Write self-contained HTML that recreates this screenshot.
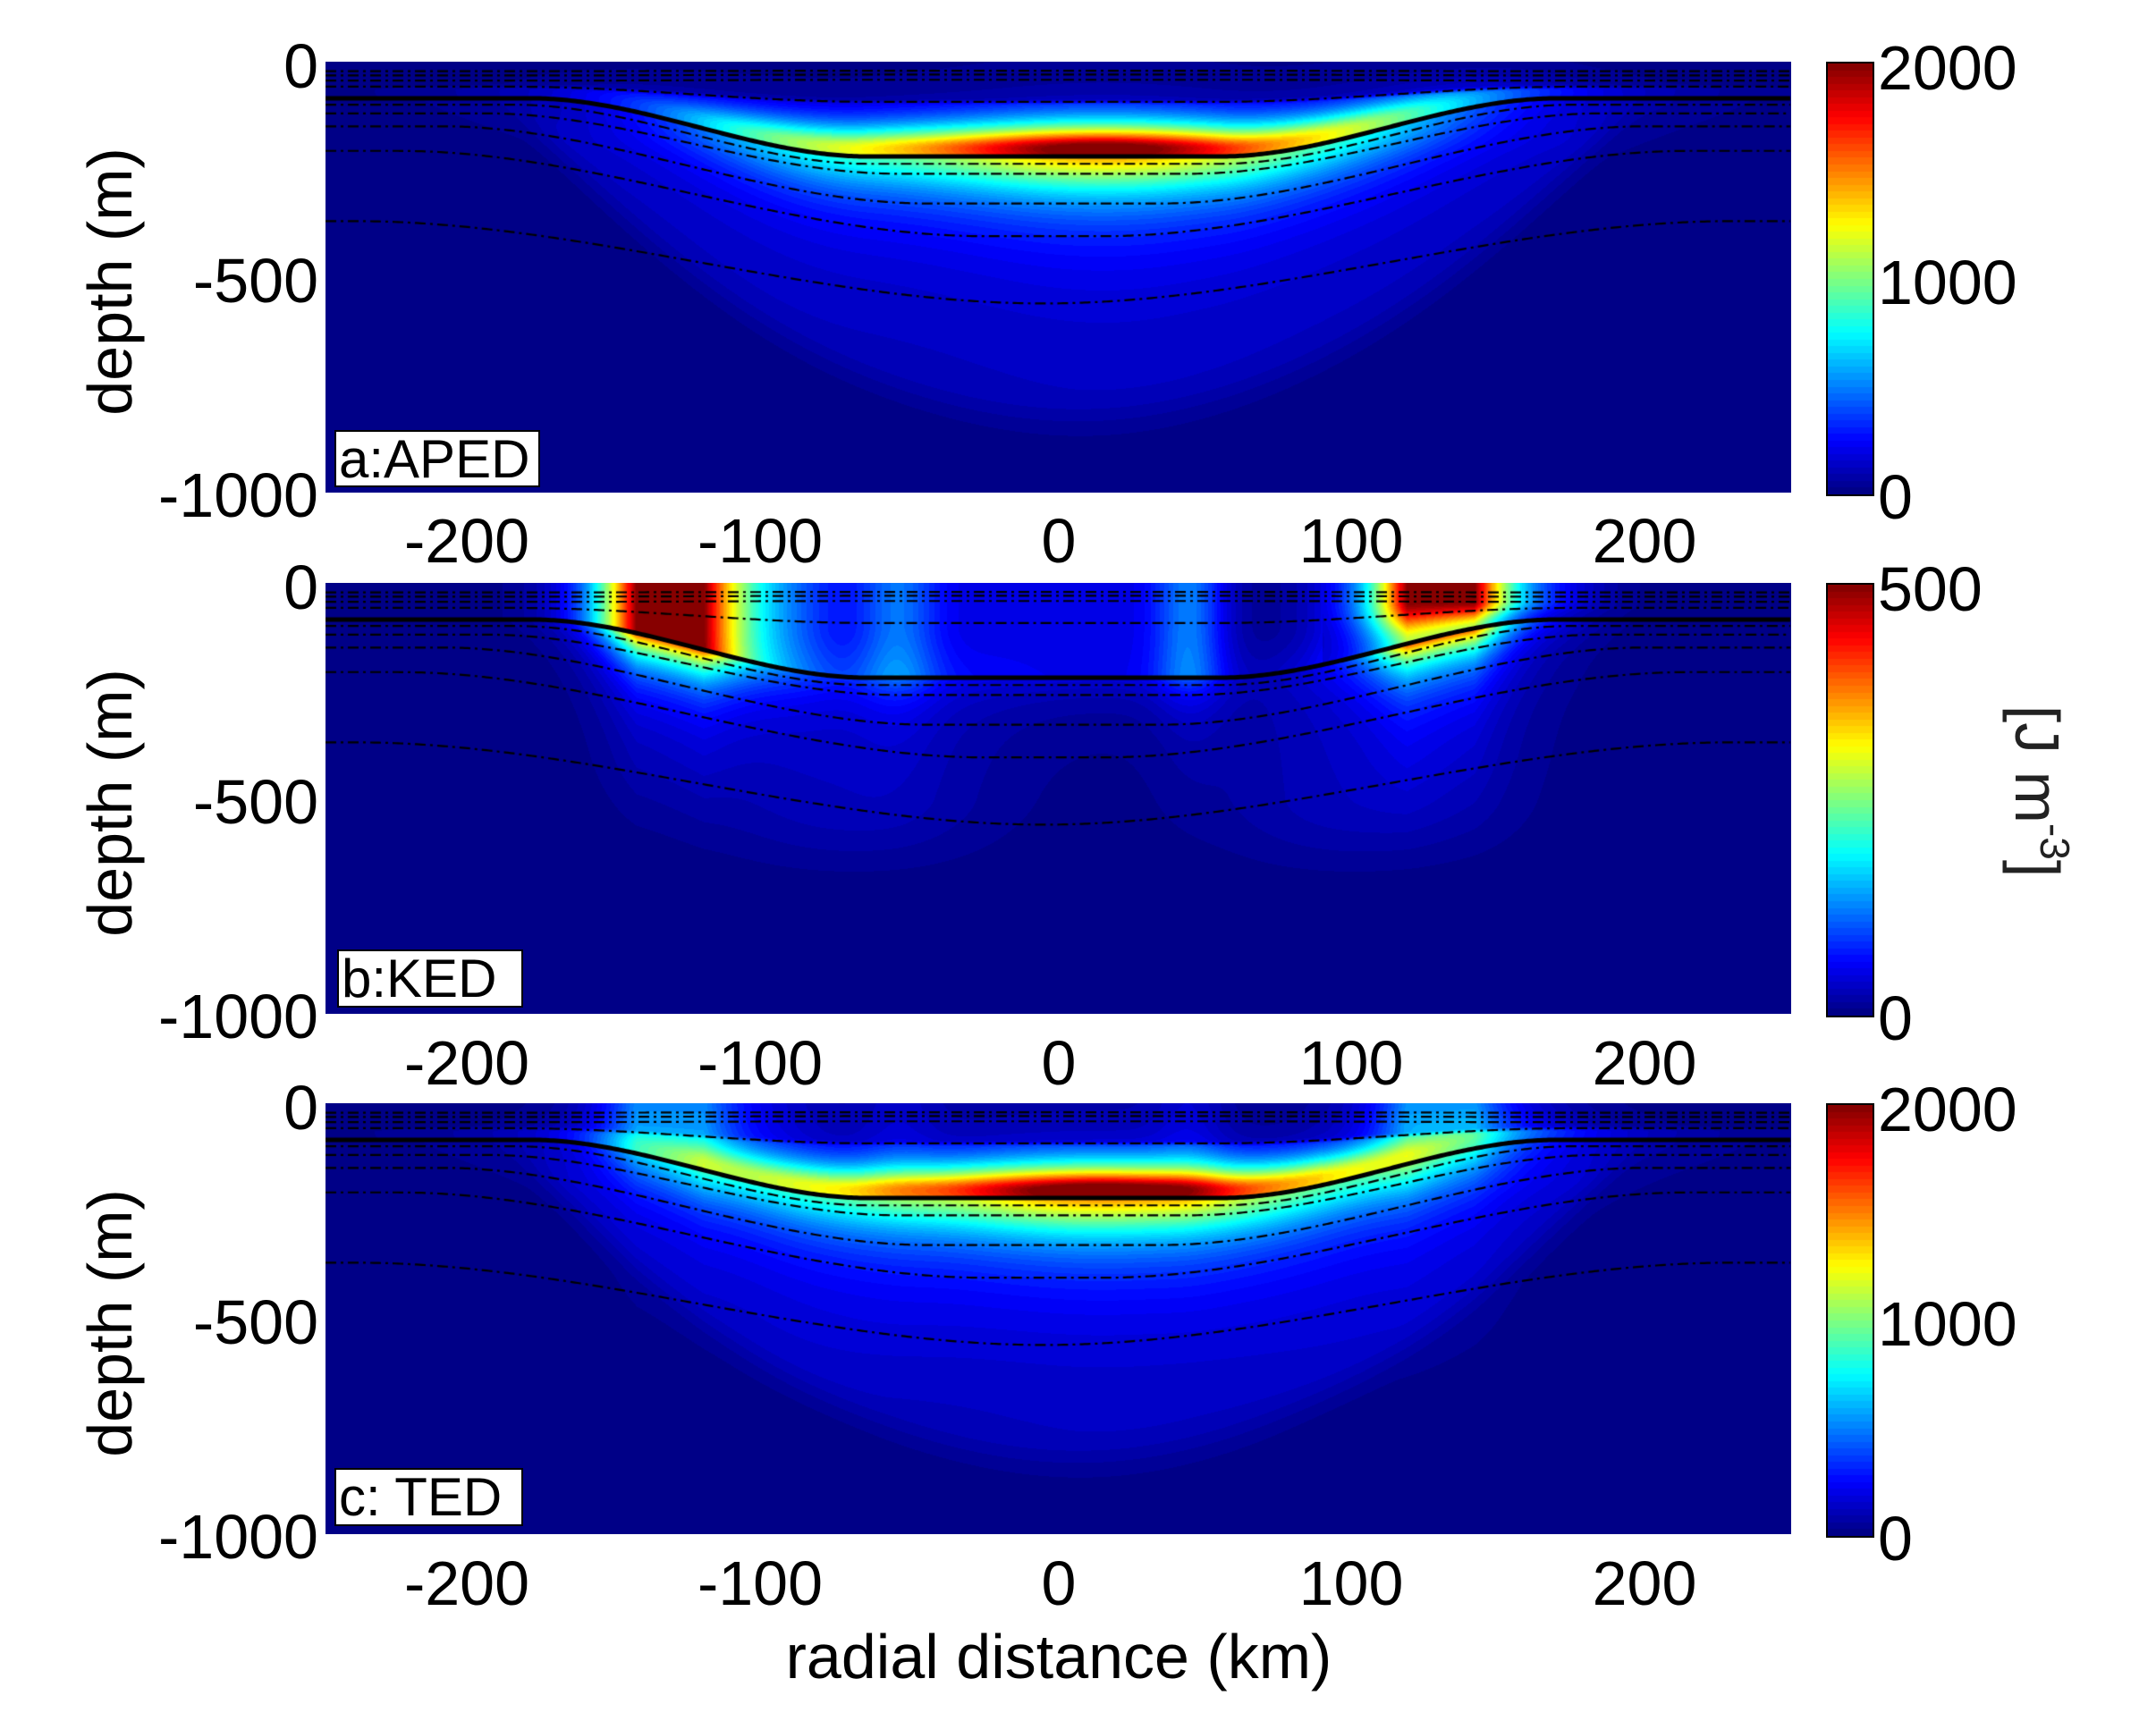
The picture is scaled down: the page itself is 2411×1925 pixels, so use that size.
<!DOCTYPE html>
<html><head><meta charset="utf-8">
<style>
body{margin:0;background:#fff;width:2411px;height:1925px;position:relative;overflow:hidden;font-family:"Liberation Sans",Arial,sans-serif;color:#000}
canvas{position:absolute;display:block}
.t{position:absolute;font-size:70px;line-height:70px;white-space:nowrap}
.yl{text-align:right;width:300px;left:56px;transform:translateY(-50%)}
.xl{width:300px;text-align:center;transform:translate(-50%,-50%)}
.cl{left:2100px;transform:translateY(-50%)}
.ylab{left:123px;transform:translate(-50%,-50%) rotate(-90deg)}
.box{position:absolute;background:#fff;border:2px solid #000;font-size:60px;line-height:62px;padding:0 3px;box-sizing:border-box;overflow:hidden}
.cb{border:2px solid #000;box-sizing:border-box}
</style></head><body>
<canvas id="pa" width="1639" height="482" style="left:364px;top:69px"></canvas>
<canvas id="pb" width="1639" height="482" style="left:364px;top:652px"></canvas>
<canvas id="pc" width="1639" height="482" style="left:364px;top:1234px"></canvas>
<canvas id="ca" class="cb" width="50" height="482" style="left:2042px;top:69px"></canvas>
<canvas id="cbb" class="cb" width="50" height="482" style="left:2042px;top:652px"></canvas>
<canvas id="cc" class="cb" width="50" height="482" style="left:2042px;top:1234px"></canvas>

<div class="box" style="left:374px;top:481px;width:230px;height:64px">a:APED</div>
<div class="box" style="left:377px;top:1062px;width:208px;height:65px">b:KED</div>
<div class="box" style="left:374px;top:1642px;width:211px;height:65px">c: TED</div>

<div class="t yl" style="top:74px">0</div><div class="t yl" style="top:314px">-500</div><div class="t yl" style="top:554px">-1000</div>
<div class="t yl" style="top:657px">0</div><div class="t yl" style="top:897px">-500</div><div class="t yl" style="top:1137px">-1000</div>
<div class="t yl" style="top:1239px">0</div><div class="t yl" style="top:1479px">-500</div><div class="t yl" style="top:1719px">-1000</div>

<div class="t xl" style="left:522px;top:605px">-200</div><div class="t xl" style="left:850px;top:605px">-100</div><div class="t xl" style="left:1184px;top:605px">0</div><div class="t xl" style="left:1511px;top:605px">100</div><div class="t xl" style="left:1839px;top:605px">200</div>
<div class="t xl" style="left:522px;top:1189px">-200</div><div class="t xl" style="left:850px;top:1189px">-100</div><div class="t xl" style="left:1184px;top:1189px">0</div><div class="t xl" style="left:1511px;top:1189px">100</div><div class="t xl" style="left:1839px;top:1189px">200</div>
<div class="t xl" style="left:522px;top:1771px">-200</div><div class="t xl" style="left:850px;top:1771px">-100</div><div class="t xl" style="left:1184px;top:1771px">0</div><div class="t xl" style="left:1511px;top:1771px">100</div><div class="t xl" style="left:1839px;top:1771px">200</div>
<div class="t xl" style="left:1184px;top:1853px;width:900px">radial distance (km)</div>

<div class="t ylab" style="top:315px">depth (m)</div>
<div class="t ylab" style="top:898px">depth (m)</div>
<div class="t ylab" style="top:1480px">depth (m)</div>

<div class="t cl" style="top:76px">2000</div><div class="t cl" style="top:316px">1000</div><div class="t cl" style="top:556px">0</div>
<div class="t cl" style="top:659px">500</div><div class="t cl" style="top:1139px">0</div>
<div class="t cl" style="top:1241px">2000</div><div class="t cl" style="top:1481px">1000</div><div class="t cl" style="top:1721px">0</div>
<div class="t" style="left:2278px;top:885px;color:#222;transform:translate(-50%,-50%) rotate(90deg)">[J m<sup style="font-size:46px;vertical-align:28px;line-height:0">-3</sup>]</div>

<script>
var W=1639,HH=482,SX=W/500,SZ=HH/1000;
function ss(a,b,x){var t=(x-a)/(b-a);t=t<0?0:t>1?1:t;return t*t*(3-2*t);}
function jet(v){v=v<0?0:v>0.9999?0.9999:v;v=(Math.floor(v*64)+0.5)/64;
 function c(x){x=1.5-Math.abs(x);return x<0?0:x>1?1:x;}
 return [c(4*v-3)*255,c(4*v-2)*255,c(4*v-1)*255];}
var L=[[22,21,60,175],[32,30,60,175],[44,42,60,178],[58,93,60,180],
[85,220,60,175],[100,237,60,180],[120,260,50,190],[150,329,40,205],[207,405,20,220],[370,561,0,235]];
var TH=4,DL=3;
function lz(l,x){var s=1-ss(l[2],l[3],Math.abs(x+5));return l[0]+(l[1]-l[0])*s;}
function fa(x,z){
 var t=lz(L[TH],x), d=lz(L[DL],x);
 var A=0.55/(1+Math.pow(Math.abs(x-10)/135,6))+0.45*Math.exp(-Math.pow((x-15)/55,2));
 var zp=t-18, dz=z-zp, p;
 if(dz<0){p=1/(1+(dz/48)*(dz/48));p*=0.35+0.65*ss(d-8,d+8,z);}
 else{p=1/(1+(dz/90)*(dz/90));p*=1-0.3*ss(t-4,t+4,z);}
 var v=2000*A*p;
 var e=z+Math.pow(Math.abs(x-5)/95,2)*180;
 v+=90*(1-ss(760,890,e))*ss(60,200,z);
 return v;}
function fb(x,z){
 var t=lz(L[TH],x);
 var g=function(c,s){var q=(x-c)/s;return Math.exp(-q*q);};
 var H=0.95*g(-134,20)+0.95*g(130,19)+0.38*g(-118,40)+0.38*g(134,36)+0.17*g(-55,14)+0.18*g(45,12)+0.1*Math.exp(-Math.pow(x/55,4));
 if(H>1)H=1;
 var V;
 if(z<t){V=1; if(x>90) V=1-0.45*ss(40,t,z);}
 else V=0.7*Math.exp(-(z-t)/55)+0.13*Math.exp(-(z-t)/260)*(1-ss(400,700,z));
 var v=500*H*V;
 v+=28*(g(-70,50)+g(100,50))*(1-ss(500,760,z))*ss(100,250,z);
 return v;}
function draw(id,f,max){
 var cv=document.getElementById(id),ctx=cv.getContext('2d');
 var im=ctx.createImageData(W,HH),D=im.data;
 for(var j=0;j<HH;j++){var z=(j+0.5)/SZ;
  for(var i=0;i<W;i++){var x=-250+(i+0.5)/SX;
   var c=jet(f(x,z)/max),k=(j*W+i)*4;D[k]=c[0];D[k+1]=c[1];D[k+2]=c[2];D[k+3]=255;}}
 ctx.putImageData(im,0,0);
 for(var n=0;n<L.length;n++){
  ctx.beginPath();
  for(var i=0;i<=W;i+=3){var x=-250+i/SX;var y=lz(L[n],x)*SZ;if(i==0)ctx.moveTo(i,y);else ctx.lineTo(i,y);}
  ctx.strokeStyle='#000';
  if(n==TH){ctx.setLineDash([]);ctx.lineWidth=5;}else{ctx.setLineDash([12,5,3,5]);ctx.lineWidth=2.2;}
  ctx.stroke();}
}
draw('pa',fa,2000);
draw('pb',fb,500);
draw('pc',function(x,z){return fa(x,z)+fb(x,z);},2000);
['ca','cbb','cc'].forEach(function(id){var cv=document.getElementById(id),ctx=cv.getContext('2d');
 for(var j=0;j<482;j++){var c=jet(1-(j+0.5)/482);ctx.fillStyle='rgb('+(c[0]|0)+','+(c[1]|0)+','+(c[2]|0)+')';ctx.fillRect(0,j,50,1);}});
</script>
</body></html>
